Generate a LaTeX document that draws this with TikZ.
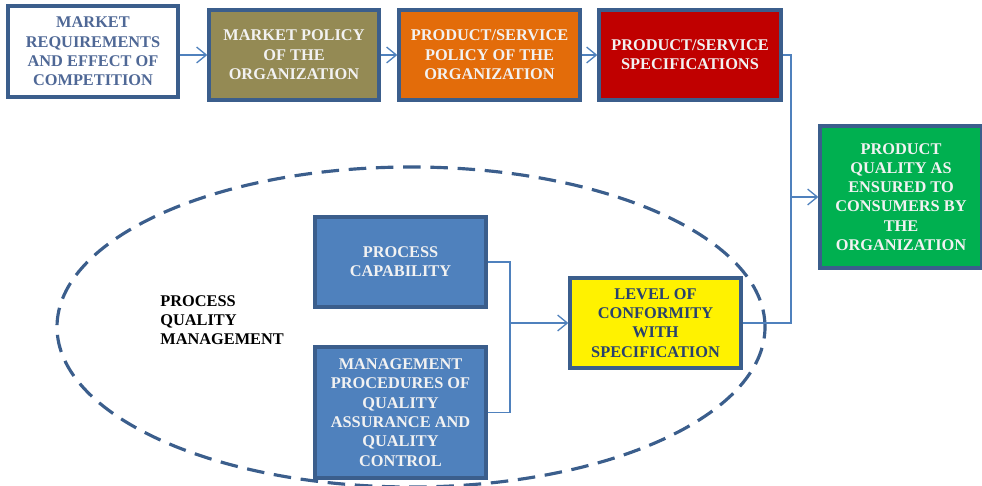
\documentclass[tikz,border=0pt]{standalone}
\usepackage{fontspec}
\setmainfont{Liberation Serif}
\usetikzlibrary{arrows.meta,positioning,shapes.geometric}
\definecolor{boxline}{RGB}{59,94,140}
\definecolor{wireblue}{RGB}{79,129,189}
\definecolor{txtblue}{RGB}{79,104,150}
\definecolor{olivebox}{RGB}{148,138,84}
\definecolor{orangebox}{RGB}{227,108,10}
\definecolor{redbox}{RGB}{192,0,0}
\definecolor{greenbox}{RGB}{0,176,80}
\definecolor{bluebox}{RGB}{79,129,189}
\definecolor{yellowtxt}{RGB}{40,65,110}
\begin{document}
\begin{tikzpicture}[  stage/.style = {align=center, inner sep=1pt, text centered,
					draw=boxline, line width=1.9pt, font=\fontsize{9.3}{11}\selectfont\bfseries},
			whitebox/.style = {stage, fill=white, text=txtblue},
			colbox/.style = {stage, fill=#1, text=white!95!black},
			wire/.style={draw=wireblue, line width=0.75pt},
			arr/.style={wire, -{Straight Barb[length=5.5pt,width=9pt]}}
		]
		\useasboundingbox (0,0) rectangle (19.64,9.7);
		% dashed region
		\node [draw=boxline, line width=1.8pt, dash pattern=on 10pt off 5.5pt, ellipse,
			minimum width=14.16cm, minimum height=6.4cm] (pqm) at (8.22,3.16) {};
		\node [anchor=west, align=left, inner sep=0pt, font=\fontsize{9.3}{11}\selectfont\bfseries] (pqmtxt) at (3.2,3.3)
			{PROCESS\\QUALITY\\MANAGEMENT};
		% top row
		\node [whitebox, minimum width=3.4cm, minimum height=1.82cm] (mreq) at (1.86,8.67)
			{MARKET\\REQUIREMENTS\\AND EFFECT OF\\COMPETITION};
		\node [colbox=olivebox, minimum width=3.4cm, minimum height=1.8cm] (mpol) at (5.88,8.6)
			{MARKET POLICY\\OF THE\\ORGANIZATION};
		\node [colbox=orangebox, minimum width=3.62cm, minimum height=1.8cm] (ppol) at (9.79,8.6)
			{PRODUCT/SERVICE\\POLICY OF THE\\ORGANIZATION};
		\node [colbox=redbox, minimum width=3.64cm, minimum height=1.8cm] (pspec) at (13.8,8.6)
			{PRODUCT/SERVICE\\SPECIFICATIONS};
		\node [colbox=greenbox, minimum width=3.24cm, minimum height=2.84cm] (pqual) at (18.02,5.76)
			{PRODUCT\\QUALITY AS\\ENSURED TO\\CONSUMERS BY\\THE\\ORGANIZATION};
		% process side
		\node [colbox=bluebox, minimum width=3.42cm, minimum height=1.8cm] (pcap) at (8.01,4.46)
			{PROCESS\\CAPABILITY};
		\node [colbox=bluebox, minimum width=3.42cm, minimum height=2.62cm] (mproc) at (8.01,1.45)
			{MANAGEMENT\\PROCEDURES OF\\QUALITY\\ASSURANCE AND\\QUALITY\\CONTROL};
		\node [stage, fill=yellow, text=yellowtxt, minimum width=3.42cm, minimum height=1.8cm] (conf) at (13.11,3.24)
			{LEVEL OF\\CONFORMITY\\WITH\\SPECIFICATION};
		% connectors
		\coordinate (jtop) at (15.82,5.76);
		\coordinate (jlow) at (10.2,3.24);
		\draw [arr] (mreq.east |- mpol) -- (mpol.west);
		\draw [arr] (mpol) -- (ppol);
		\draw [arr] (ppol) -- (pspec);
		\draw [wire] (pspec.east) -| (jtop);
		\draw [wire] (conf.east) -| (jtop);
		\draw [arr] (jtop) -- (pqual.west);
		\draw [wire] (pcap.east) -| (jlow);
		\draw [wire] (mproc.east) -| (jlow);
		\draw [arr] (jlow) -- (conf.west);
	\end{tikzpicture}
\end{document}
